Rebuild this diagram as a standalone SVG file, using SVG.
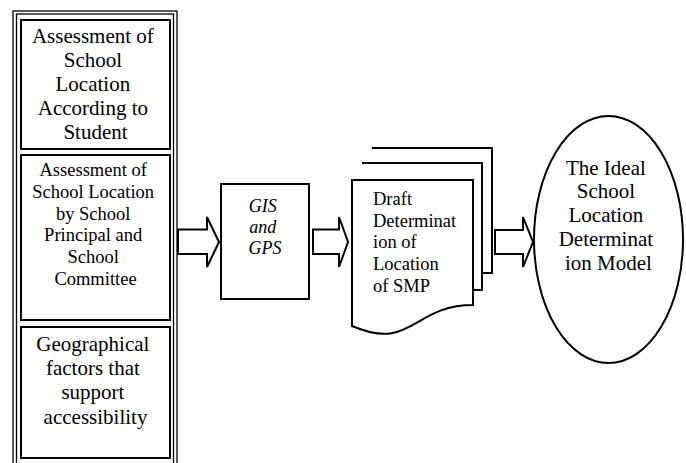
<svg xmlns="http://www.w3.org/2000/svg" width="686" height="463" viewBox="0 0 686 463">
  <style>
    .box { fill: #fff; stroke: #000; stroke-width: 2; }
    .frame { fill: none; stroke: #000; stroke-width: 1.3; }
    .arrow { fill: #fff; stroke: #000; stroke-width: 2; stroke-linejoin: miter; }
    text { font-family: "Liberation Serif", "Tinos", "DejaVu Serif", serif; fill: #000; }
    .c { text-anchor: middle; }
    .big { font-size: 21px; }
    .mid { font-size: 18.5px; }
    .it { font-style: italic; font-size: 18px; }
  </style>
  <rect width="686" height="463" fill="#fff"/>

  <!-- Double frame around the three assessment inputs -->
  <g id="inputs-frame">
    <rect class="frame" x="13" y="11" width="164" height="470"/>
    <rect class="frame" x="16.5" y="14" width="157" height="470"/>
  </g>

  <g id="student-assessment">
    <rect class="box" x="21" y="20" width="149" height="129"/>
    <text class="c big" font-family="Liberation Serif, serif">
      <tspan x="95.5" y="43">Assessment of</tspan>
      <tspan x="95.5" y="67">School</tspan>
      <tspan x="95.5" y="91">Location</tspan>
      <tspan x="95.5" y="115">According to</tspan>
      <tspan x="95.5" y="139">Student</tspan>
    </text>
  </g>

  <g id="principal-assessment">
    <rect class="box" x="21" y="155" width="149" height="165"/>
    <text class="c mid" font-family="Liberation Serif, serif">
      <tspan x="95.5" y="176">Assessment of</tspan>
      <tspan x="95.5" y="198">School Location</tspan>
      <tspan x="95.5" y="219.5">by School</tspan>
      <tspan x="95.5" y="241">Principal and</tspan>
      <tspan x="95.5" y="263">School</tspan>
      <tspan x="95.5" y="285">Committee</tspan>
    </text>
  </g>

  <g id="geographical-factors">
    <rect class="box" x="21" y="327" width="149" height="131"/>
    <text class="c big" font-family="Liberation Serif, serif">
      <tspan x="95.5" y="351">Geographical</tspan>
      <tspan x="95.5" y="375">factors that</tspan>
      <tspan x="95.5" y="399">support</tspan>
      <tspan x="95.5" y="424">accessibility</tspan>
    </text>
  </g>

  <g id="gis-gps">
    <rect class="box" x="221" y="184" width="88" height="115"/>
    <text class="c it" font-family="Liberation Serif, serif">
      <tspan x="265" y="212">GIS</tspan>
      <tspan x="265" y="233">and</tspan>
      <tspan x="265" y="254">GPS</tspan>
    </text>
  </g>

  <g id="draft-documents">
    <!-- back sheet -->
    <path class="box" d="M372,148 H492 V273 H482"/>
    <!-- middle sheet -->
    <path class="box" d="M362,163 H482 V290 H473"/>
    <!-- front sheet with wavy bottom -->
    <path class="box" d="M352,180 H473 V305 C412.5,305 412.5,352 352,326 Z"/>
    <text class="mid" font-family="Liberation Serif, serif">
      <tspan x="373" y="205">Draft</tspan>
      <tspan x="373" y="227">Determinat</tspan>
      <tspan x="373" y="248">ion of</tspan>
      <tspan x="373" y="270">Location</tspan>
      <tspan x="373" y="292">of SMP</tspan>
    </text>
  </g>

  <g id="ideal-model">
    <ellipse cx="608.5" cy="239.5" rx="74.5" ry="123.5" fill="#fff" stroke="#000" stroke-width="2"/>
    <text class="c big" font-family="Liberation Serif, serif">
      <tspan x="608.5" y="175">The Ideal</tspan>
      <tspan x="608.5" y="198">School</tspan>
      <tspan x="608.5" y="222">Location</tspan>
      <tspan x="608.5" y="246">Determinat</tspan>
      <tspan x="608.5" y="270">ion Model</tspan>
    </text>
  </g>

  <!-- Block arrows between the stages -->
  <g id="connectors">
    <path class="arrow" d="M178,229.5 H207 V217 L219,242 L207,267 V254 H178 Z"/>
    <path class="arrow" d="M313,229.5 H339 V217 L348,242 L339,267 V254 H313 Z"/>
    <path class="arrow" d="M495,230 H523 V217 L533,242 L523,267 V254 H495 Z"/>
  </g>
</svg>
